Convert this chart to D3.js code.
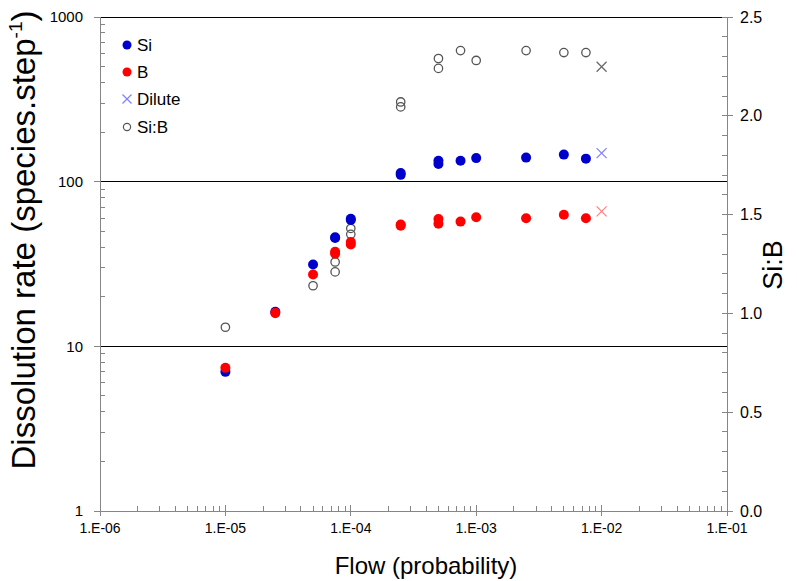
<!DOCTYPE html>
<html><head><meta charset="utf-8">
<script src="https://cdn.jsdelivr.net/npm/d3@7"></script>
<style>body{margin:0;background:#fff}svg{display:block;font-family:Arial,"Liberation Sans",sans-serif}</style>
</head><body><svg id="c" width="797" height="581"></svg>
<script>
// Data
const flow = [1e-5, 2.5e-5, 5e-5, 7.5e-5, 7.5e-5, 1e-4, 1e-4, 2.5e-4, 2.5e-4, 5e-4, 5e-4, 7.5e-4, 1e-3, 2.5e-3, 5e-3, 7.5e-3];
const siRate = [7.0, 16.2, 31.4, 46, 45.5, 59.5, 58.5, 113, 110, 134, 128, 134, 139, 140, 146, 138];
const bRate = [7.4, 16.0, 27.3, 37.5, 36.5, 41.5, 43, 55, 54, 59.3, 55.5, 57.2, 60.8, 59.9, 62.9, 59.9];
const siB = [0.93, 1.0, 1.14, 1.26, 1.21, 1.43, 1.40, 2.07, 2.045, 2.29, 2.24, 2.33, 2.28, 2.33, 2.32, 2.32];
const diluteFlow = [1e-2];
const diluteSi = [149];
const diluteB = [66];
const diluteSiB = [2.248];
const xTickLabels = ["1.E-06","1.E-05","1.E-04","1.E-03","1.E-02","1.E-01"];
const yLeftTicks = [1, 10, 100, 1000];
const yRightTicks = [0, 0.5, 1.0, 1.5, 2.0, 2.5];
const legendItems = ["Si", "B", "Dilute", "Si:B"];

const svg = d3.select("#c");
const L = 100, R = 727, T = 17, B = 511;
const x = d3.scaleLog().domain([1e-6, 1e-1]).range([L, R]);
const yL = d3.scaleLog().domain([1, 1000]).range([B, T]);
const yR = d3.scaleLinear().domain([0, 2.5]).range([B, T]);
const axisCol = "#868686";

// gridlines
svg.append("g").selectAll("line").data([10, 100, 1000]).join("line")
  .attr("x1", L).attr("x2", R).attr("y1", d => yL(d)).attr("y2", d => yL(d))
  .attr("stroke", "#000").attr("stroke-width", 1).attr("shape-rendering","crispEdges");

// minor values
const minorLog = (lo, hi) => { const a = []; for (let e = lo; e < hi; e++) for (let m = 2; m <= 9; m++) a.push(m * Math.pow(10, e)); return a; };

// left axis
const gl = svg.append("g").attr("shape-rendering","crispEdges");
gl.append("line").attr("x1", L).attr("x2", L).attr("y1", T).attr("y2", B).attr("stroke", axisCol);
gl.selectAll(".mn").data(minorLog(0, 3)).join("line").attr("class","mn")
  .attr("x1", L).attr("x2", L + 5).attr("y1", d => yL(d)).attr("y2", d => yL(d)).attr("stroke", axisCol);
gl.selectAll(".mj").data(yLeftTicks).join("line").attr("class","mj")
  .attr("x1", L - 6).attr("x2", L).attr("y1", d => yL(d)).attr("y2", d => yL(d)).attr("stroke", axisCol);
gl.selectAll("text").data(yLeftTicks).join("text")
  .attr("x", L - 17).attr("y", d => yL(d)).attr("dy", "0.35em").attr("text-anchor", "end")
  .attr("font-size", 15).text(d => d);

// bottom axis
const gb = svg.append("g").attr("shape-rendering","crispEdges");
gb.append("line").attr("x1", L).attr("x2", R).attr("y1", B).attr("y2", B).attr("stroke", axisCol);
gb.selectAll(".mn").data(minorLog(-6, -1)).join("line").attr("class","mn")
  .attr("x1", d => x(d)).attr("x2", d => x(d)).attr("y1", B - 5).attr("y2", B).attr("stroke", axisCol);
const xMajor = [1e-6, 1e-5, 1e-4, 1e-3, 1e-2, 1e-1];
gb.selectAll(".mj").data(xMajor).join("line").attr("class","mj")
  .attr("x1", d => x(d)).attr("x2", d => x(d)).attr("y1", B - 6).attr("y2", B + 5).attr("stroke", axisCol);
gb.selectAll("text").data(xMajor).join("text")
  .attr("x", d => x(d)).attr("y", B + 17).attr("dy", "0.35em").attr("text-anchor", "middle")
  .attr("font-size", 14).text((d, i) => xTickLabels[i]);

// right axis
const gr = svg.append("g").attr("shape-rendering","crispEdges");
gr.append("line").attr("x1", R).attr("x2", R).attr("y1", T).attr("y2", B).attr("stroke", axisCol);
gr.selectAll(".mn").data(d3.range(0, 26).map(i => i / 10)).join("line").attr("class","mn")
  .attr("x1", R - 5).attr("x2", R).attr("y1", d => yR(d)).attr("y2", d => yR(d)).attr("stroke", axisCol);
gr.selectAll(".mj").data(yRightTicks).join("line").attr("class","mj")
  .attr("x1", R).attr("x2", R + 6).attr("y1", d => yR(d)).attr("y2", d => yR(d)).attr("stroke", axisCol);
gr.selectAll("text").data(yRightTicks).join("text")
  .attr("x", R + 13).attr("y", d => yR(d)).attr("dy", "0.35em").attr("text-anchor", "start")
  .attr("font-size", 16).text(d => d.toFixed(1));

// axis titles
svg.append("text").attr("x", 426).attr("y", 574).attr("text-anchor", "middle").attr("font-size", 24)
  .text("Flow (probability)");
const yt = svg.append("text").attr("transform", "translate(35,240) rotate(-90)").attr("text-anchor", "middle").attr("font-size", 33);
yt.append("tspan").text("Dissolution rate (species.step");
yt.append("tspan").attr("font-size", 19).attr("dy", -13).text("-1");
yt.append("tspan").attr("dy", 13).text(")");
svg.append("text").attr("transform", "translate(782,265) rotate(-90)").attr("text-anchor", "middle").attr("font-size", 27)
  .text("Si:B");

const blue = "#0000cc", red = "#ff0000", gray = "#555";
const idx = d3.range(flow.length);
// Si:B open circles
svg.append("g").selectAll("circle").data(idx).join("circle")
  .attr("cx", i => x(flow[i])).attr("cy", i => yR(siB[i])).attr("r", 4.2)
  .attr("fill", "none").attr("stroke", gray).attr("stroke-width", 1.3);
// Si
svg.append("g").selectAll("circle").data(idx).join("circle")
  .attr("cx", i => x(flow[i])).attr("cy", i => yL(siRate[i])).attr("r", 5).attr("fill", blue);
// B
svg.append("g").selectAll("circle").data(idx).join("circle")
  .attr("cx", i => x(flow[i])).attr("cy", i => yL(bRate[i])).attr("r", 5).attr("fill", red);

// dilute X markers
function cross(g, cx, cy, s, col) {
  g.append("path").attr("d", `M${cx - s},${cy - s}L${cx + s},${cy + s}M${cx - s},${cy + s}L${cx + s},${cy - s}`)
    .attr("stroke", col).attr("stroke-width", 1.2).attr("fill", "none");
}
const gx = svg.append("g");
diluteFlow.forEach((f, i) => {
  cross(gx, x(f), yL(diluteSi[i]), 5, "#7f7fff");
  cross(gx, x(f), yL(diluteB[i]), 5, "#ff8080");
  cross(gx, x(f), yR(diluteSiB[i]), 5, "#666");
});

// legend
const lg = svg.append("g");
const ly = [45, 72, 99, 127];
lg.append("circle").attr("cx", 127).attr("cy", ly[0]).attr("r", 4.5).attr("fill", blue);
lg.append("circle").attr("cx", 127).attr("cy", ly[1]).attr("r", 4.5).attr("fill", red);
cross(lg, 127, ly[2], 4.5, "#7f7fff");
lg.append("circle").attr("cx", 127).attr("cy", ly[3]).attr("r", 3.6).attr("fill", "none").attr("stroke", gray).attr("stroke-width", 1.2);
lg.selectAll("text").data(legendItems).join("text")
  .attr("x", 137).attr("y", (d, i) => ly[i]).attr("dy", "0.36em").attr("font-size", 17).text(d => d);
</script></body></html>
